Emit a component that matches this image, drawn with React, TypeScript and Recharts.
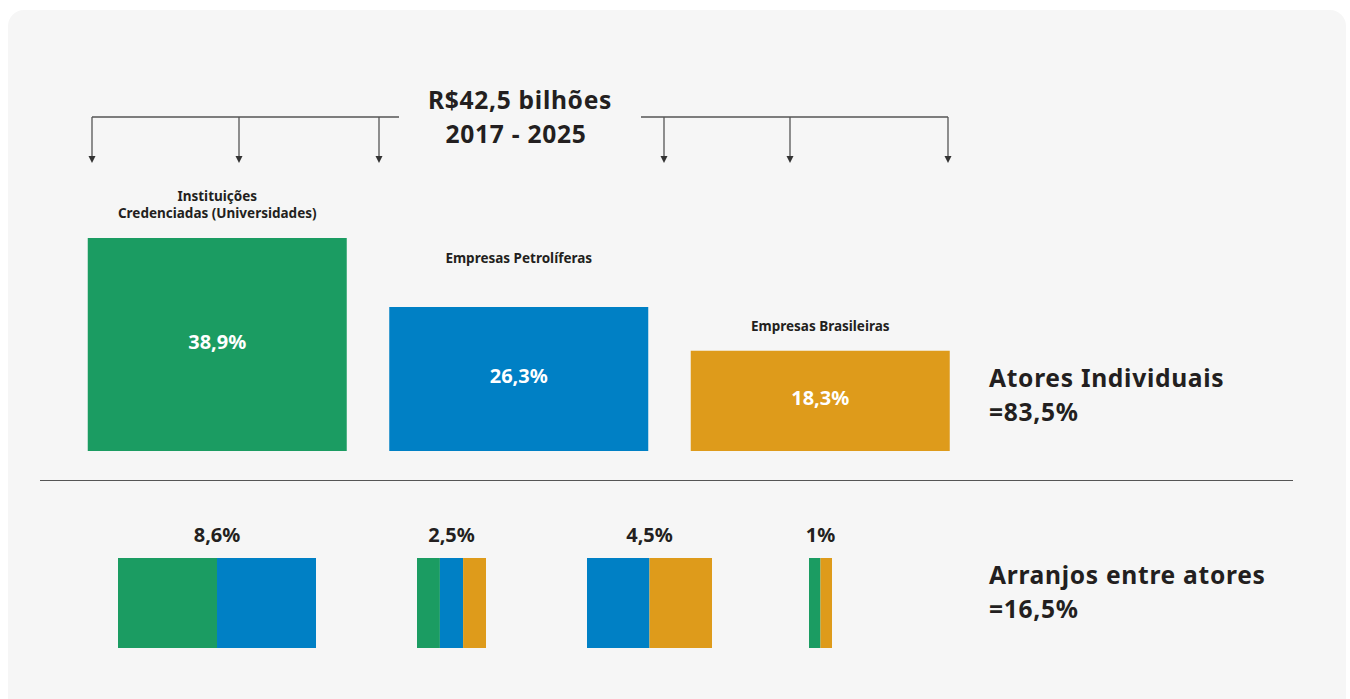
import React from "react"
import { Bar, BarChart, Cell, LabelList, XAxis, YAxis } from "recharts"

// investimento por tipo de ator (% do total de R$42,5 bi, 2017-2025)
const atores = ["Instituições\nCredenciadas (Universidades)", "Empresas Petrolíferas", "Empresas Brasileiras"]
const atoresShare = [38.9, 26.3, 18.3]
const atoresLabels = ["38,9%", "26,3%", "18,3%"]

// arranjos entre atores
const arranjos = ["Univ + Petro", "Univ + Petro + Bras", "Petro + Bras", "Univ + Bras"]
const arranjosTotal = [8.6, 2.5, 4.5, 1]
const arranjosLabels = ["8,6%", "2,5%", "4,5%", "1%"]
const arranjosUniversidades = [4.3, 0.83, 0, 0.5]
const arranjosPetroliferas = [4.3, 0.84, 2.25, 0]
const arranjosBrasileiras = [0, 0.83, 2.25, 0.5]

const GREEN = "#1b9c62"
const BLUE = "#0080c5"
const ORANGE = "#de9b1b"
const TEXT = "#231f20"
const FONT = "'Noto Sans', 'Open Sans', sans-serif"

const barColors = [GREEN, BLUE, ORANGE]
const nameGap = [25, 49, 25]

// where each arrangement group sits on the page
const groupLeft = [118, 417, 587, 809]
const groupWidth = [198, 69, 125, 23]

const topData = atores.map((name, i) => ({
  name,
  share: atoresShare[i],
  label: atoresLabels[i],
}))

const NameLabel = (props: any) => {
  const box = props.viewBox ?? props
  const x = box.x + box.width / 2
  const lines = String(props.value).split("\n")
  const last = box.y - nameGap[props.index] + 5
  return (
    <text x={x} textAnchor="middle" fill={TEXT} fontSize={13.5} fontWeight={700} fontFamily={FONT}>
      {lines.map((l, k) => (
        <tspan key={k} x={x} y={last - (lines.length - 1 - k) * 17}>
          {l}
        </tspan>
      ))}
    </text>
  )
}

function Bracket() {
  const drops = [92, 239, 379, 664, 790, 948]
  return (
    <svg width={1350} height={200} style={{ position: "absolute", left: 0, top: 0 }}>
      <line x1={92} y1={117} x2={399} y2={117} stroke="#555" strokeWidth={1.3} />
      <line x1={641} y1={117} x2={948} y2={117} stroke="#555" strokeWidth={1.3} />
      {drops.map((x) => (
        <g key={x}>
          <line x1={x} y1={117} x2={x} y2={157} stroke="#555" strokeWidth={1.3} />
          <path d={`M${x - 3.5},156 L${x + 3.5},156 L${x},163 Z`} fill="#333" />
        </g>
      ))}
    </svg>
  )
}

export default function App() {
  const big: React.CSSProperties = {
    position: "absolute",
    fontFamily: FONT,
    fontWeight: 700,
    color: TEXT,
    fontSize: 24.6,
    letterSpacing: 0.7,
    lineHeight: "34px",
    whiteSpace: "nowrap",
  }
  return (
    <div style={{ position: "absolute", left: 0, top: 0, width: 1350, height: 699, background: "#fff", overflow: "hidden" }}>
      <div style={{ position: "absolute", left: 8, top: 10, width: 1338, height: 720, background: "#f6f6f6", borderRadius: 16 }} />
      <Bracket />
      <div style={{ ...big, left: 400, top: 83, width: 240, textAlign: "center" }}>R$42,5 bilhões</div>
      <div style={{ ...big, left: 400, top: 117, width: 232, textAlign: "center" }}>2017 - 2025</div>

      <div style={{ position: "absolute", left: 60, top: 170 }}>
        <BarChart width={920} height={290} data={topData} margin={{ top: 68, right: 8.75, bottom: 9, left: 6.75 }}>
          <XAxis dataKey="name" hide />
          <YAxis hide domain={[0, 38.9]} />
          <Bar dataKey="share" barSize={259} isAnimationActive={false}>
            {topData.map((d, i) => (
              <Cell key={d.name} fill={barColors[i]} />
            ))}
            <LabelList dataKey="name" content={NameLabel} />
            <LabelList
              dataKey="label"
              position="center"
              fill="#fff"
              fontSize={20}
              fontWeight={700}
              fontFamily={FONT}
              dy={-3}
            />
          </Bar>
        </BarChart>
      </div>

      <div style={{ ...big, left: 989, top: 361 }}>Atores Individuais</div>
      <div style={{ ...big, left: 989, top: 395 }}>=83,5%</div>

      <div style={{ position: "absolute", left: 40, top: 480, width: 1253, height: 1, background: "#555" }} />

      {arranjos.map((name, i) => {
        const row = [
          {
            name,
            uni: arranjosUniversidades[i],
            pet: arranjosPetroliferas[i],
            bra: arranjosBrasileiras[i],
          },
        ]
        return (
          <React.Fragment key={name}>
            <div
              style={{
                position: "absolute",
                left: groupLeft[i] + groupWidth[i] / 2 - 60,
                top: 521,
                width: 120,
                textAlign: "center",
                fontFamily: FONT,
                fontWeight: 700,
                fontSize: 20,
                color: TEXT,
              }}
            >
              {arranjosLabels[i]}
            </div>
            <div style={{ position: "absolute", left: groupLeft[i], top: 558 }}>
              <BarChart
                width={groupWidth[i]}
                height={90}
                data={row}
                layout="vertical"
                barCategoryGap={0}
                margin={{ top: 0, right: 0, bottom: 0, left: 0 }}
              >
                <XAxis type="number" hide domain={[0, arranjosTotal[i]]} />
                <YAxis type="category" dataKey="name" hide />
                <Bar dataKey="uni" stackId="a" fill={GREEN} isAnimationActive={false} />
                <Bar dataKey="pet" stackId="a" fill={BLUE} isAnimationActive={false} />
                <Bar dataKey="bra" stackId="a" fill={ORANGE} isAnimationActive={false} />
              </BarChart>
            </div>
          </React.Fragment>
        )
      })}

      <div style={{ ...big, left: 989, top: 558 }}>Arranjos entre atores</div>
      <div style={{ ...big, left: 989, top: 592 }}>=16,5%</div>
    </div>
  )
}
